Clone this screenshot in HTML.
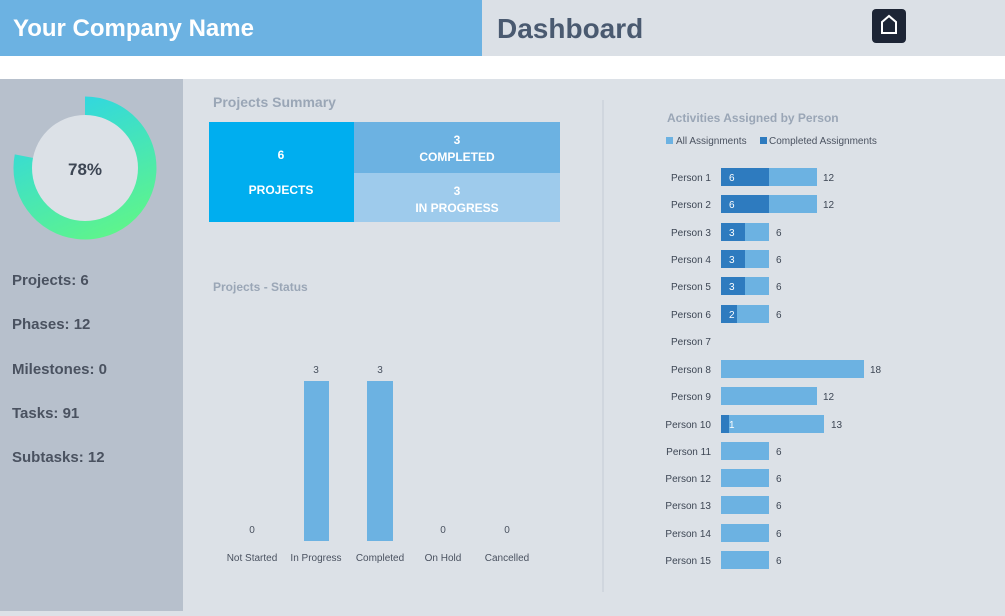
<!DOCTYPE html>
<html><head><style>
body{margin:0;width:1005px;height:611px;overflow:hidden;font-family:"Liberation Sans",sans-serif;background:#dce1e7}
</style></head><body>
<svg width="1005" height="611" xmlns="http://www.w3.org/2000/svg" font-family="Liberation Sans, sans-serif">
<defs>
<linearGradient id="g" gradientUnits="userSpaceOnUse" x1="60" y1="100" x2="120" y2="235"><stop offset="0" stop-color="#2fd6e3"/><stop offset="1" stop-color="#5ff58a"/></linearGradient>
</defs>
<rect width="1005" height="611" fill="#dce1e7"/>
<rect x="0" y="0" width="482" height="56" fill="#6cb2e2"/>
<rect x="482" y="0" width="523" height="56" fill="#dbe0e6"/>
<rect x="0" y="56" width="1005" height="23" fill="#ffffff"/>
<text x="13" y="36" font-size="24" font-weight="bold" fill="#fff">Your Company Name</text>
<text x="497" y="38" font-size="28" font-weight="bold" fill="#4a5a70">Dashboard</text>
<rect x="872" y="9" width="34" height="34" rx="4" fill="#1d2535"/>
<path d="M882 22 L889 16 L896 22 V33 H882 Z" fill="none" stroke="#fff" stroke-width="2"/>
<rect x="0" y="79" width="183" height="532" fill="#b7c0cc"/>
<path d="M85 106 A62 62 0 1 1 24.1 156.2" fill="none" stroke="url(#g)" stroke-width="19"/>
<circle cx="85" cy="168" r="53" fill="#dce1e7"/>
<text x="85" y="175" font-size="17" font-weight="bold" fill="#3d4654" text-anchor="middle">78%</text>
<g font-size="15" font-weight="bold" fill="#4a5260">
<text x="12" y="285">Projects: 6</text>
<text x="12" y="329">Phases: 12</text>
<text x="12" y="374">Milestones: 0</text>
<text x="12" y="418">Tasks: 91</text>
<text x="12" y="462">Subtasks: 12</text>
</g>
<text x="213" y="107" font-size="14" font-weight="bold" fill="#9aa6b6">Projects Summary</text>
<rect x="209" y="122" width="145" height="100" fill="#00aeef"/>
<rect x="354" y="122" width="206" height="51" fill="#6cb2e2"/>
<rect x="354" y="173" width="206" height="49" fill="#9ecbec"/>
<g font-size="12" font-weight="bold" fill="#fff" text-anchor="middle">
<text x="281" y="159">6</text><text x="281" y="194">PROJECTS</text>
<text x="457" y="144">3</text><text x="457" y="161">COMPLETED</text>
<text x="457" y="195">3</text><text x="457" y="212">IN PROGRESS</text>
</g>
<line x1="603" y1="100" x2="603" y2="592" stroke="#c3cbd6" stroke-width="1"/>
<text x="213" y="291" font-size="12" font-weight="bold" fill="#9aa6b6">Projects - Status</text>
<rect x="304" y="381" width="25" height="160" fill="#6cb2e2"/>
<rect x="367" y="381" width="26" height="160" fill="#6cb2e2"/>
<g font-size="10" fill="#4a5260" text-anchor="middle">
<text x="252" y="533">0</text><text x="316" y="373">3</text><text x="380" y="373">3</text><text x="443" y="533">0</text><text x="507" y="533">0</text>
<text x="252" y="561">Not Started</text><text x="316" y="561">In Progress</text><text x="380" y="561">Completed</text><text x="443" y="561">On Hold</text><text x="507" y="561">Cancelled</text>
</g>
<text x="667" y="122" font-size="12" font-weight="bold" fill="#9aa6b6">Activities Assigned by Person</text>
<rect x="666" y="137" width="7" height="7" fill="#6cb2e2"/><text x="676" y="144" font-size="10" fill="#4a5260">All Assignments</text>
<rect x="760" y="137" width="7" height="7" fill="#2e7bbf"/><text x="769" y="144" font-size="10" fill="#4a5260">Completed Assignments</text>
<g font-size="10" fill="#3d4654">
<g transform="translate(0,177)"><text x="711" y="4" text-anchor="end">Person 1</text><rect x="721" y="-9" width="96" height="18" fill="#6cb2e2"/><rect x="721" y="-9" width="48" height="18" fill="#2e7bbf"/><text x="729" y="4" fill="#fff">6</text><text x="823" y="4">12</text></g>
<g transform="translate(0,204)"><text x="711" y="4" text-anchor="end">Person 2</text><rect x="721" y="-9" width="96" height="18" fill="#6cb2e2"/><rect x="721" y="-9" width="48" height="18" fill="#2e7bbf"/><text x="729" y="4" fill="#fff">6</text><text x="823" y="4">12</text></g>
<g transform="translate(0,232)"><text x="711" y="4" text-anchor="end">Person 3</text><rect x="721" y="-9" width="48" height="18" fill="#6cb2e2"/><rect x="721" y="-9" width="24" height="18" fill="#2e7bbf"/><text x="729" y="4" fill="#fff">3</text><text x="776" y="4">6</text></g>
<g transform="translate(0,259)"><text x="711" y="4" text-anchor="end">Person 4</text><rect x="721" y="-9" width="48" height="18" fill="#6cb2e2"/><rect x="721" y="-9" width="24" height="18" fill="#2e7bbf"/><text x="729" y="4" fill="#fff">3</text><text x="776" y="4">6</text></g>
<g transform="translate(0,286)"><text x="711" y="4" text-anchor="end">Person 5</text><rect x="721" y="-9" width="48" height="18" fill="#6cb2e2"/><rect x="721" y="-9" width="24" height="18" fill="#2e7bbf"/><text x="729" y="4" fill="#fff">3</text><text x="776" y="4">6</text></g>
<g transform="translate(0,314)"><text x="711" y="4" text-anchor="end">Person 6</text><rect x="721" y="-9" width="48" height="18" fill="#6cb2e2"/><rect x="721" y="-9" width="16" height="18" fill="#2e7bbf"/><text x="729" y="4" fill="#fff">2</text><text x="776" y="4">6</text></g>
<g transform="translate(0,341)"><text x="711" y="4" text-anchor="end">Person 7</text></g>
<g transform="translate(0,369)"><text x="711" y="4" text-anchor="end">Person 8</text><rect x="721" y="-9" width="143" height="18" fill="#6cb2e2"/><text x="870" y="4">18</text></g>
<g transform="translate(0,396)"><text x="711" y="4" text-anchor="end">Person 9</text><rect x="721" y="-9" width="96" height="18" fill="#6cb2e2"/><text x="823" y="4">12</text></g>
<g transform="translate(0,424)"><text x="711" y="4" text-anchor="end">Person 10</text><rect x="721" y="-9" width="103" height="18" fill="#6cb2e2"/><rect x="721" y="-9" width="8" height="18" fill="#2e7bbf"/><text x="729" y="4" fill="#fff">1</text><text x="831" y="4">13</text></g>
<g transform="translate(0,451)"><text x="711" y="4" text-anchor="end">Person 11</text><rect x="721" y="-9" width="48" height="18" fill="#6cb2e2"/><text x="776" y="4">6</text></g>
<g transform="translate(0,478)"><text x="711" y="4" text-anchor="end">Person 12</text><rect x="721" y="-9" width="48" height="18" fill="#6cb2e2"/><text x="776" y="4">6</text></g>
<g transform="translate(0,505)"><text x="711" y="4" text-anchor="end">Person 13</text><rect x="721" y="-9" width="48" height="18" fill="#6cb2e2"/><text x="776" y="4">6</text></g>
<g transform="translate(0,533)"><text x="711" y="4" text-anchor="end">Person 14</text><rect x="721" y="-9" width="48" height="18" fill="#6cb2e2"/><text x="776" y="4">6</text></g>
<g transform="translate(0,560)"><text x="711" y="4" text-anchor="end">Person 15</text><rect x="721" y="-9" width="48" height="18" fill="#6cb2e2"/><text x="776" y="4">6</text></g>
</g>
</svg>
</body></html>
